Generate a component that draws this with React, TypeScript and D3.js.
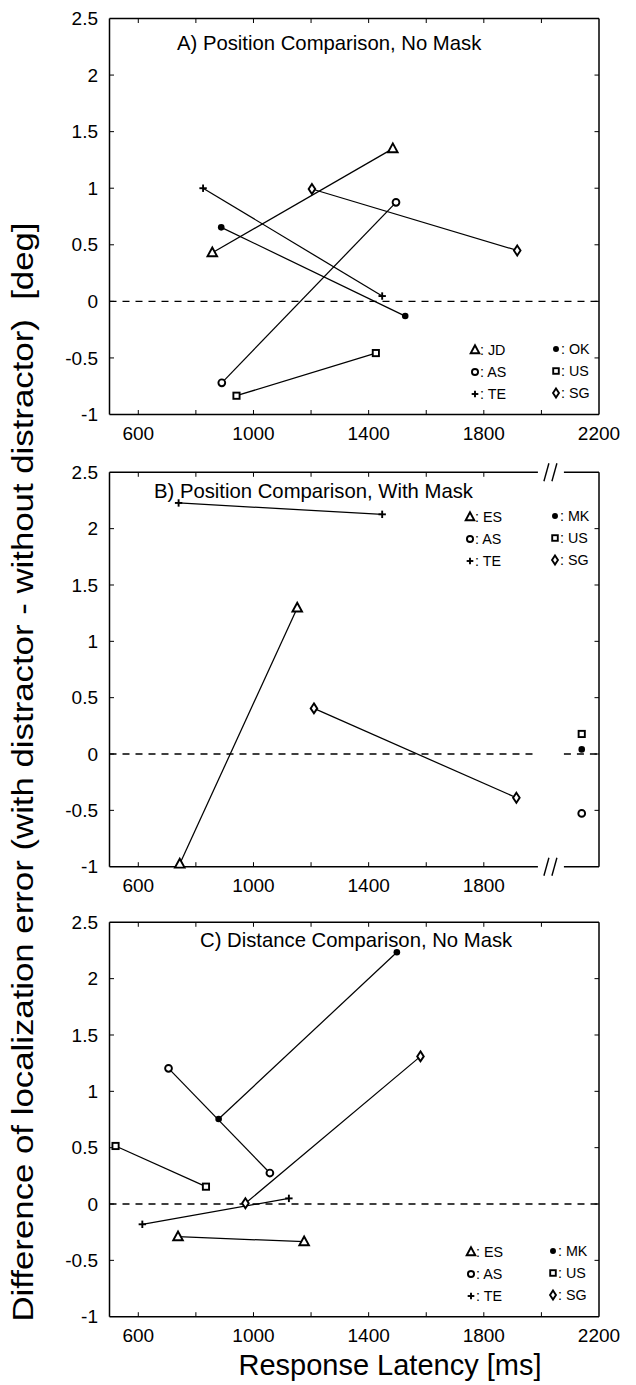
import React from "react";
import * as d3 from "d3";

// ---------------- data ----------------
const xTickValues = [600, 800, 1000, 1200, 1400, 1600, 1800, 2000, 2200];
const xTickLabelsFull = [600, 1000, 1400, 1800, 2200];
const xTickLabelsBroken = [600, 1000, 1400, 1800];
const yTickValues = [-1, -0.5, 0, 0.5, 1, 1.5, 2, 2.5];

// Panel A
const subjectsA = ["JD", "AS", "TE", "OK", "US", "SG"];
const markersA = ["triangle", "circle", "plus", "dot", "square", "diamond"];
const latencyA = [[857, 1484], [890, 1495], [825, 1447], [888, 1527], [941, 1425], [1203, 1916]];
const errorA = [[0.43, 1.35], [-0.72, 0.875], [1.0, 0.047], [0.654, -0.13], [-0.834, -0.457], [0.993, 0.45]];

// Panel B
const subjectsB = ["ES", "AS", "TE", "MK", "US", "SG"];
const markersB = ["triangle", "circle", "plus", "dot", "square", "diamond"];
const latencyB = [[744, 1152], [], [740, 1447], [], [], [1210, 1913]];
const errorB = [[-0.976, 1.296], [], [2.228, 2.127], [], [], [0.405, -0.388]];
// subjects plotted beyond the axis break (single value each)
const brokenSubjectsB = ["AS", "MK", "US"];
const brokenMarkersB = ["circle", "dot", "square"];
const brokenErrorB = [-0.527, 0.041, 0.178];
const brokenPositionB = 2140;
const breakValueB = 2033;

// Panel C
const subjectsC = ["ES", "AS", "TE", "MK", "US", "SG"];
const markersC = ["triangle", "circle", "plus", "dot", "square", "diamond"];
const latencyC = [[738, 1176], [705, 1057], [614, 1123], [879, 1498], [521, 835], [972, 1580]];
const errorC = [[-0.29, -0.334], [1.204, 0.275], [-0.18, 0.05], [0.754, 2.234], [0.515, 0.154], [0.006, 1.31]];

const titles = [
  "A) Position Comparison, No Mask",
  "B) Position Comparison, With Mask",
  "C) Distance Comparison, No Mask",
];
const xAxisTitle = "Response Latency [ms]";
const yAxisTitle = "Difference of localization error (with distractor - without distractor)  [deg]";

// ---------------- layout ----------------
const W = 636;
const H = 1385;
const LEFT = 109.5;
const RIGHT = 599;
const FONT = "'Liberation Sans', Arial, Helvetica, sans-serif";

function Marker({ type, x, y, s = 1 }: { type: string; x: number; y: number; s?: number }) {
  const sw = 1.9;
  if (type === "triangle") {
    const p = [
      [x, y - 5.2 * s],
      [x - 4.8 * s, y + 3.6 * s],
      [x + 4.8 * s, y + 3.6 * s],
    ];
    return <polygon points={p.map((d) => d.join(",")).join(" ")} fill="white" stroke="black" strokeWidth={sw} strokeLinejoin="miter" />;
  }
  if (type === "circle") {
    return <circle cx={x} cy={y} r={3.4 * s} fill="white" stroke="black" strokeWidth={sw} />;
  }
  if (type === "dot") {
    return <circle cx={x} cy={y} r={3.3 * s} fill="black" stroke="none" />;
  }
  if (type === "square") {
    const h = 3.1 * s;
    return <rect x={x - h} y={y - h} width={2 * h} height={2 * h} fill="white" stroke="black" strokeWidth={sw} />;
  }
  if (type === "diamond") {
    const p = [
      [x, y - 5 * s],
      [x + 3.3 * s, y],
      [x, y + 5 * s],
      [x - 3.3 * s, y],
    ];
    return <polygon points={p.map((d) => d.join(",")).join(" ")} fill="white" stroke="black" strokeWidth={sw} />;
  }
  // plus
  const h = 3.7 * s;
  return (
    <g stroke="black" strokeWidth={sw}>
      <line x1={x - h} x2={x + h} y1={y} y2={y} />
      <line x1={x} x2={x} y1={y - h} y2={y + h} />
    </g>
  );
}

type PanelProps = {
  top: number;
  bottom: number;
  title: string;
  titleX: number;
  titleDy: number;
  subjects: string[];
  markers: string[];
  latency: number[][];
  error: number[][];
  legendCols: number[];
  legendRows: number[];
  tickLabels: number[];
  broken?: boolean;
};

function Panel(p: PanelProps) {
  const x = d3.scaleLinear().domain([500, 2200]).range([LEFT, RIGHT]);
  const y = d3.scaleLinear().domain([-1, 2.5]).range([p.bottom, p.top]);
  const tl = 4.5;
  const breakPx = x(breakValueB);
  const gapL = breakPx - 13;
  const gapR = breakPx + 13;
  const line = d3.line<[number, number]>().x((d) => x(d[0])).y((d) => y(d[1]));
  const xTicks = p.broken ? xTickValues.filter((v) => v < breakValueB - 60) : xTickValues;

  const legend = p.subjects.map((s, i) => {
    const col = i < 3 ? 0 : 1;
    const row = i % 3;
    const mx = p.legendCols[col];
    const my = p.legendRows[row] - (col === 1 ? 1 : 0);
    return (
      <g key={"lg" + i}>
        <Marker type={p.markers[i]} x={mx} y={my} s={0.9} />
        <text x={mx + 5} y={my + 5} fontSize={14.3} fontFamily={FONT}>
          {": " + s}
        </text>
      </g>
    );
  });

  return (
    <g>
      <g stroke="black" strokeWidth={1.5} fill="none">
        <line x1={LEFT} x2={LEFT} y1={p.top} y2={p.bottom} />
        <line x1={RIGHT} x2={RIGHT} y1={p.top} y2={p.bottom} />
        {p.broken ? (
          <>
            <line x1={LEFT} x2={gapL} y1={p.top} y2={p.top} />
            <line x1={gapR} x2={RIGHT} y1={p.top} y2={p.top} />
            <line x1={LEFT} x2={gapL} y1={p.bottom} y2={p.bottom} />
            <line x1={gapR} x2={RIGHT} y1={p.bottom} y2={p.bottom} />
          </>
        ) : (
          <>
            <line x1={LEFT} x2={RIGHT} y1={p.top} y2={p.top} />
            <line x1={LEFT} x2={RIGHT} y1={p.bottom} y2={p.bottom} />
          </>
        )}
      </g>
      {p.broken && (
        <g stroke="black" strokeWidth={1.4}>
          {[p.top, p.bottom].map((yy, k) => (
            <g key={"br" + k}>
              <line x1={breakPx - 7} y1={yy + 9} x2={breakPx - 2} y2={yy - 9} />
              <line x1={breakPx + 1} y1={yy + 9} x2={breakPx + 6} y2={yy - 9} />
            </g>
          ))}
        </g>
      )}
      <g stroke="black" strokeWidth={1}>
        {xTicks.filter((v) => v > 500 && v < 2200).map((v) => (
          <g key={"xt" + v}>
            <line x1={x(v)} x2={x(v)} y1={p.bottom} y2={p.bottom - tl} />
            <line x1={x(v)} x2={x(v)} y1={p.top} y2={p.top + tl} />
          </g>
        ))}
        {yTickValues.filter((v) => v > -1 && v < 2.5).map((v) => (
          <g key={"yt" + v}>
            <line x1={LEFT} x2={LEFT + tl} y1={y(v)} y2={y(v)} />
            <line x1={RIGHT} x2={RIGHT - tl} y1={y(v)} y2={y(v)} />
          </g>
        ))}
      </g>
      <g fontFamily={FONT} fontSize={19}>
        {p.tickLabels.map((v) => (
          <text key={"xl" + v} x={x(v)} y={p.bottom + 25} textAnchor="middle">
            {v}
          </text>
        ))}
        {yTickValues.map((v) => (
          <text key={"yl" + v} x={98} y={y(v) + 6.7} textAnchor="end">
            {v}
          </text>
        ))}
      </g>
      <g stroke="black" strokeWidth={1.3} strokeDasharray="7,6">
        {p.broken ? (
          <>
            <line x1={LEFT} x2={gapL} y1={y(0)} y2={y(0)} />
            <line x1={gapR} x2={RIGHT} y1={y(0)} y2={y(0)} />
          </>
        ) : (
          <line x1={LEFT} x2={RIGHT} y1={y(0)} y2={y(0)} />
        )}
      </g>
      <text x={p.titleX} y={p.top + p.titleDy} fontFamily={FONT} fontSize={20.3}>
        {p.title}
      </text>
      {p.latency.map((lat, i) =>
        lat.length === 2 ? (
          <path
            key={"ln" + i}
            d={line([
              [lat[0], p.error[i][0]],
              [lat[1], p.error[i][1]],
            ]) as string}
            stroke="black"
            strokeWidth={1.25}
            fill="none"
          />
        ) : null
      )}
      {p.latency.map((lat, i) =>
        lat.map((v, j) => <Marker key={"mk" + i + "_" + j} type={p.markers[i]} x={x(v)} y={y(p.error[i][j])} />)
      )}
      {p.broken &&
        brokenSubjectsB.map((s, i) => (
          <Marker key={"bk" + s} type={brokenMarkersB[i]} x={x(brokenPositionB)} y={y(brokenErrorB[i])} />
        ))}
      {legend}
    </g>
  );
}

export default function App() {
  return (
    <svg
      width={W}
      height={H}
      viewBox={`0 0 ${W} ${H}`}
      style={{ position: "absolute", left: 0, top: 0, background: "white" }}
    >
      <rect x={0} y={0} width={W} height={H} fill="white" />
      <Panel
        top={18.5}
        bottom={414.5}
        title={titles[0]}
        titleX={177}
        titleDy={31.5}
        subjects={subjectsA}
        markers={markersA}
        latency={latencyA}
        error={errorA}
        legendCols={[475, 556]}
        legendRows={[350, 372, 394]}
        tickLabels={xTickLabelsFull}
      />
      <Panel
        top={472.3}
        bottom={866.7}
        title={titles[1]}
        titleX={154}
        titleDy={25.7}
        subjects={subjectsB}
        markers={markersB}
        latency={latencyB}
        error={errorB}
        legendCols={[470, 555]}
        legendRows={[517, 539, 561]}
        tickLabels={xTickLabelsBroken}
        broken
      />
      <Panel
        top={922.3}
        bottom={1316.7}
        title={titles[2]}
        titleX={200}
        titleDy={24.7}
        subjects={subjectsC}
        markers={markersC}
        latency={latencyC}
        error={errorC}
        legendCols={[471, 553]}
        legendRows={[1252, 1274, 1296]}
        tickLabels={xTickLabelsFull}
      />
      <text x={390} y={1375} textAnchor="middle" fontFamily={FONT} fontSize={29}>
        {xAxisTitle}
      </text>
      <text
        transform="translate(33,772) rotate(-90)"
        textAnchor="middle"
        fontFamily={FONT}
        fontSize={30}
        textLength={1099}
        lengthAdjust="spacingAndGlyphs"
        style={{ whiteSpace: "pre" }}
      >
        {yAxisTitle}
      </text>
    </svg>
  );
}
